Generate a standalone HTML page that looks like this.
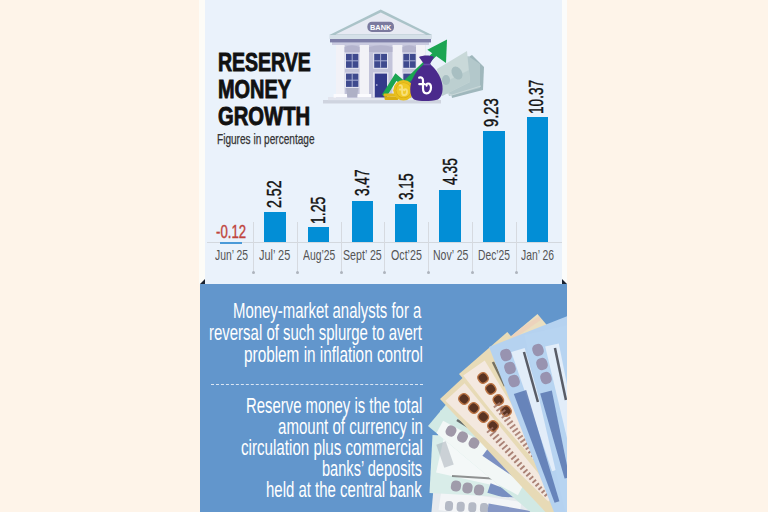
<!DOCTYPE html>
<html><head><meta charset="utf-8"><style>
*{margin:0;padding:0;box-sizing:border-box}
html,body{width:768px;height:512px;overflow:hidden;background:#fef4e9}
body{position:relative;font-family:"Liberation Sans",Arial,sans-serif}
.abs{position:absolute}
#wstripL{position:absolute;left:199px;top:0;width:6px;height:284px;background:#fdfcf7}
#wstripR{position:absolute;left:562px;top:0;width:5px;height:284px;background:#fbfcfb}
#top{position:absolute;left:205px;top:0;width:357px;height:284px;background:#eaf2fb}
#panel{position:absolute;left:200px;top:284px;width:367px;height:228px;background:#6296cc}
.tri{position:absolute;width:0;height:0}
.ill,.fan{position:absolute;left:0;top:0}
.t{position:absolute;font-family:"Liberation Sans",Arial,sans-serif;white-space:nowrap;transform-origin:0 0}
.val{color:#111}
.bar{position:absolute;background:#028ed6}
.bar.neg{background:#4a9ad8}
.axis{position:absolute;left:207px;top:242px;width:355px;height:1px;background:#d3d8de}
.sep{position:absolute;top:222px;width:1px;height:50px;background:#d6dae0}
.dot{position:absolute;top:271px;width:3px;height:3px;border-radius:50%;background:#aeb4bd}
.dash{position:absolute;left:211px;top:384px;width:212px;height:0;border-top:1.2px dashed #dbe6f3}
</style></head><body>
<div id="wstripL"></div><div id="wstripR"></div>
<div id="top"></div>
<div id="panel"></div>
<svg class="abs" style="left:0;top:0" width="768" height="512"><polygon points="200,284 205,284 205,279" fill="#1a2230"/><polygon points="562,279 562,284 567,284" fill="#1a2230"/></svg>

<svg class="ill" width="768" height="512" viewBox="0 0 768 512">
 <!-- cash stack -->
 <polygon points="447,70 472,55 484,67 483,90 452,98" fill="#9fb7bc"/>
 <polygon points="443,72 468,56 480,64 480,88 449,96" fill="#b3c8cb"/>
 <polyline points="444,92 452,95 481,86" fill="none" stroke="#c9d8d9" stroke-width="1"/>
 <polygon points="437,69 467,51 470,82 442,96" fill="#c9d9d9"/>
 <polygon points="441,84 469,70 470,82 442,96" fill="#bccfd0"/>
 <ellipse cx="457" cy="73" rx="5" ry="7" fill="#a8bfc2" transform="rotate(-30 457 73)"/>
 <ellipse cx="446" cy="80" rx="4" ry="5" fill="#a8bfc2"/>
 <!-- steps -->
 <rect x="323" y="100" width="118" height="3.5" fill="#cfd4df"/>
 <rect x="328" y="97" width="105" height="3.2" fill="#e2e5ee"/>
 <!-- walls -->
 <rect x="336" y="44" width="90" height="54" fill="#c3c4da"/>
 <!-- columns -->
 <g fill="#f2f2f7">
  <rect x="336" y="45" width="8.6" height="50"/>
  <rect x="359.6" y="45" width="9.4" height="50"/>
  <rect x="392.5" y="45" width="9.9" height="50"/>
  <rect x="416" y="45" width="9.8" height="50"/>
 </g>
 <g fill="#fbfbfe">
  <rect x="333.6" y="94" width="13.6" height="3.6"/>
  <rect x="357.4" y="94" width="13.8" height="3.6"/>
  <rect x="390.3" y="94" width="14.3" height="3.6"/>
  <rect x="413.8" y="94" width="14.2" height="3.6"/>
 </g>
 <!-- arches -->
 <g fill="#b4b4cd">
  <path d="M344.5,52 L344.5,47 Q352,43.5 359.6,47 L359.6,52 Z"/>
  <path d="M369,52 L369,47 Q380.7,43.5 392.5,47 L392.5,52 Z"/>
  <path d="M402.4,52 L402.4,47 Q409.2,43.5 416,47 L416,52 Z"/>
 </g>
 <!-- planters -->
 <path d="M346,88 L358.4,88 L357,97 L347.4,97 Z" fill="#aeb0c6"/>
 <path d="M403.3,88 L415.7,88 L414.3,97 L404.7,97 Z" fill="#aeb0c6"/>
 <!-- window frames -->
 <g fill="#e6e7f2">
  <rect x="345" y="52.8" width="14.4" height="16"/>
  <rect x="345" y="72.6" width="14.4" height="15.3"/>
  <rect x="373.2" y="52.8" width="14.8" height="16"/>
  <rect x="402.3" y="52.8" width="14.4" height="16"/>
  <rect x="402.3" y="72.6" width="14.4" height="15.3"/>
 </g>
 <!-- windows -->
 <g fill="#3f4a8e">
  <rect x="346" y="53.8" width="12.4" height="14"/>
  <rect x="346" y="73.6" width="12.4" height="13.3"/>
  <rect x="374.2" y="53.8" width="12.8" height="14"/>
  <rect x="403.3" y="53.8" width="12.4" height="14"/>
  <rect x="403.3" y="73.6" width="12.4" height="13.3"/>
 </g>
 <g stroke="#a9aed4" stroke-width="1">
  <line x1="352.2" y1="53.8" x2="352.2" y2="67.8"/><line x1="346" y1="60.8" x2="358.4" y2="60.8"/>
  <line x1="352.2" y1="73.6" x2="352.2" y2="86.9"/><line x1="346" y1="80.2" x2="358.4" y2="80.2"/>
  <line x1="380.6" y1="53.8" x2="380.6" y2="67.8"/><line x1="374.2" y1="60.8" x2="387" y2="60.8"/>
  <line x1="409.5" y1="53.8" x2="409.5" y2="67.8"/><line x1="403.3" y1="60.8" x2="415.7" y2="60.8"/>
 </g>
 <rect x="373" y="72.3" width="15.4" height="25" fill="#e3e3f0"/>
 <rect x="374.8" y="73.6" width="12.2" height="23.8" fill="#33398a"/>
 <circle cx="376.8" cy="85" r="0.8" fill="#dde"/>
 <!-- cornice -->
 <rect x="332" y="42" width="97" height="3" fill="#c9cadf"/>
 <rect x="330" y="38.6" width="101" height="3.8" fill="#7e7fa8"/>
 <rect x="329.4" y="34.6" width="102.6" height="4.4" fill="#d5e0e8"/>
 <!-- roof -->
 <polygon points="380.7,9.4 432,35 329.4,35" fill="#aac3c8"/>
 <polygon points="380.7,12.6 426,34.6 335.4,34.6" fill="#e7eaf3"/>
 <rect x="367.4" y="21.7" width="26.6" height="10.2" rx="4.5" fill="#7b7a9e"/>
 <text x="380.7" y="29.6" text-anchor="middle" font-family="Liberation Sans, Arial, sans-serif" font-weight="700" font-size="7.4" fill="#fff">BANK</text>
 <!-- arrow -->
 <polyline points="384,96 396,77 404,84 437,52" fill="none" stroke="#1ba552" stroke-width="5" stroke-linejoin="miter"/>
 <polygon points="447,39.4 427.3,49.8 446,62.9" fill="#1ba552"/>
 <!-- coins -->
 <rect x="383.5" y="93.5" width="14" height="3.2" rx="1.2" fill="#e2b81c"/>
 <rect x="384.5" y="96.7" width="14" height="3.2" rx="1.2" fill="#d8ad14"/>
 <circle cx="403.5" cy="90.2" r="10.3" fill="#e8bf1e"/>
 <circle cx="403.5" cy="90.2" r="7.8" fill="#d9a912"/>
 <circle cx="403.5" cy="90.2" r="7.2" fill="#f0c928"/>
 <path d="M-5.8,-7.9 C-3.5,-8.5 -2,-7.5 -2,-5 L-2,3 C-2,7 0,7.8 1.5,7.8 C4.5,7.8 6,5 6,2 C6,-0.7 4.5,-2 3,-2 C1.8,-2 1.3,-0.9 1.6,0.1 M-5.7,-1.3 L-0.5,-1.3" transform="translate(403.3,90.3) scale(0.62)" fill="none" stroke="#f7e07a" stroke-width="3" stroke-linecap="round" stroke-linejoin="round"/>
 <!-- bag -->
 <path d="M419,57 C423,55 430,55 434,57 L430,64 C432,66 436,69 439,75 C444,84 444,96 438,99.5 C430,101.5 420,101.5 414,99.5 C409,96 409,84 414,76 C417,70 421,67 424,64 Z" fill="#4a2a8c"/>
 <path d="M423.5,64.5 L430.5,64.5" stroke="#6a4aac" stroke-width="1.6"/>
 <path d="M-5.8,-7.9 C-3.5,-8.5 -2,-7.5 -2,-5 L-2,3 C-2,7 0,7.8 1.5,7.8 C4.5,7.8 6,5 6,2 C6,-0.7 4.5,-2 3,-2 C1.8,-2 1.3,-0.9 1.6,0.1 M-5.7,-1.3 L-0.5,-1.3" transform="translate(425,85.5)" fill="none" stroke="#fff" stroke-width="2.2" stroke-linecap="round" stroke-linejoin="round"/>
</svg>
<div class="t" style="left:218.10px;top:48.70px;font-weight:700;font-size:26px;line-height:26px;transform:scaleX(0.7496);color:#111;-webkit-text-stroke:0.9px #111">RESERVE</div>
<div class="t" style="left:217.97px;top:76.00px;font-weight:700;font-size:26px;line-height:26px;transform:scaleX(0.7656);color:#111;-webkit-text-stroke:0.9px #111">MONEY</div>
<div class="t" style="left:218.12px;top:102.80px;font-weight:700;font-size:26px;line-height:26px;transform:scaleX(0.7776);color:#111;-webkit-text-stroke:0.9px #111">GROWTH</div>
<div class="t" style="left:217.49px;top:132.23px;font-weight:400;font-size:14.2px;line-height:14.2px;transform:scaleX(0.7110);color:#333;-webkit-text-stroke:0.25px #333">Figures in percentage</div>
<div class="axis"></div>
<div class="bar neg" style="left:220.2px;top:242.3px;width:21.6px;height:1.5px"></div>
<div class="bar" style="left:264.0px;top:211.9px;width:21.6px;height:30.4px"></div>
<div class="t val" style="left:264.90px;top:207.86px;font-size:19.6px;line-height:19.6px;transform:rotate(-90deg) scaleX(0.7222);-webkit-text-stroke:0.4px #111">2.52</div>
<div class="bar" style="left:307.8px;top:227.2px;width:21.6px;height:15.1px"></div>
<div class="t val" style="left:308.70px;top:223.87px;font-size:19.6px;line-height:19.6px;transform:rotate(-90deg) scaleX(0.7143);-webkit-text-stroke:0.4px #111">1.25</div>
<div class="bar" style="left:351.6px;top:200.5px;width:21.6px;height:41.8px"></div>
<div class="t val" style="left:352.50px;top:196.38px;font-size:19.6px;line-height:19.6px;transform:rotate(-90deg) scaleX(0.6944);-webkit-text-stroke:0.4px #111">3.47</div>
<div class="bar" style="left:395.4px;top:204.3px;width:21.6px;height:38.0px"></div>
<div class="t val" style="left:396.80px;top:200.24px;font-size:19.6px;line-height:19.6px;transform:rotate(-90deg) scaleX(0.6944);-webkit-text-stroke:0.4px #111">3.15</div>
<div class="bar" style="left:439.2px;top:189.9px;width:21.6px;height:52.4px"></div>
<div class="t val" style="left:440.50px;top:185.08px;font-size:19.6px;line-height:19.6px;transform:rotate(-90deg) scaleX(0.7027);-webkit-text-stroke:0.4px #111">4.35</div>
<div class="bar" style="left:483.0px;top:131.1px;width:21.6px;height:111.2px"></div>
<div class="t val" style="left:481.90px;top:127.03px;font-size:19.6px;line-height:19.6px;transform:rotate(-90deg) scaleX(0.7500);-webkit-text-stroke:0.4px #111">9.23</div>
<div class="bar" style="left:526.8px;top:117.3px;width:21.6px;height:125.0px"></div>
<div class="t val" style="left:526.50px;top:113.93px;font-size:19.6px;line-height:19.6px;transform:rotate(-90deg) scaleX(0.6957);-webkit-text-stroke:0.4px #111">10.37</div>
<div class="t" style="left:215.78px;top:222.53px;font-weight:400;font-size:18.2px;line-height:18.2px;transform:scaleX(0.7250);color:#c0443c;-webkit-text-stroke:0.4px #c0443c">-0.12</div>
<div class="t" style="left:214.59px;top:248.19px;font-weight:400;font-size:14.6px;line-height:14.6px;transform:scaleX(0.7111);color:#555">Jun’ 25</div>
<div class="t" style="left:259.35px;top:248.19px;font-weight:400;font-size:14.6px;line-height:14.6px;transform:scaleX(0.7500);color:#555">Jul’ 25</div>
<div class="t" style="left:302.90px;top:248.19px;font-weight:400;font-size:14.6px;line-height:14.6px;transform:scaleX(0.7111);color:#555">Aug’25</div>
<div class="t" style="left:342.97px;top:248.19px;font-weight:400;font-size:14.6px;line-height:14.6px;transform:scaleX(0.7308);color:#555">Sept’ 25</div>
<div class="t" style="left:390.77px;top:248.19px;font-weight:400;font-size:14.6px;line-height:14.6px;transform:scaleX(0.7317);color:#555">Oct’25</div>
<div class="t" style="left:432.58px;top:248.19px;font-weight:400;font-size:14.6px;line-height:14.6px;transform:scaleX(0.7234);color:#555">Nov’ 25</div>
<div class="t" style="left:477.90px;top:248.19px;font-weight:400;font-size:14.6px;line-height:14.6px;transform:scaleX(0.7045);color:#555">Dec’25</div>
<div class="t" style="left:521.19px;top:248.19px;font-weight:400;font-size:14.6px;line-height:14.6px;transform:scaleX(0.7111);color:#555">Jan’ 26</div>
<div class="sep" style="left:253.0px"></div><div class="dot" style="left:252.0px"></div>
<div class="sep" style="left:296.8px"></div><div class="dot" style="left:295.8px"></div>
<div class="sep" style="left:340.6px"></div><div class="dot" style="left:339.6px"></div>
<div class="sep" style="left:384.4px"></div><div class="dot" style="left:383.4px"></div>
<div class="sep" style="left:428.2px"></div><div class="dot" style="left:427.2px"></div>
<div class="sep" style="left:472.0px"></div><div class="dot" style="left:471.0px"></div>
<div class="sep" style="left:515.8px"></div><div class="dot" style="left:514.8px"></div>
<svg class="fan" width="768" height="512" viewBox="0 0 768 512">
<defs><clipPath id="pc"><rect x="200" y="284" width="367" height="228"/></clipPath><clipPath id="cn1"><polygon points="429.0,540.0 440.3,410.5 659.5,429.7 648.2,559.2"/></clipPath><clipPath id="cn2"><polygon points="429.5,493.0 432.5,435.1 652.2,446.6 649.2,504.5"/></clipPath><clipPath id="cn3"><polygon points="428.0,426.0 469.1,377.0 645.3,524.8 604.2,573.8"/></clipPath><clipPath id="cb3"><polygon points="488.5,355.0 537.5,313.9 691.8,497.7 642.8,538.9"/></clipPath><clipPath id="cb2"><polygon points="440.0,399.0 486.8,355.4 650.5,530.9 603.7,574.5"/></clipPath><clipPath id="cb1"><polygon points="459.0,374.0 507.3,332.0 664.8,513.1 616.5,555.1"/></clipPath><clipPath id="cu2"><polygon points="489.0,347.0 572.7,314.0 664.4,546.6 580.6,579.6"/></clipPath><clipPath id="cu1"><polygon points="524.4,335.0 592.6,319.3 648.8,562.8 580.6,578.6"/></clipPath></defs>
<g clip-path="url(#pc)"><polygon points="429.0,540.0 440.3,410.5 659.5,429.7 648.2,559.2" fill="#e6eaee"/><g clip-path="url(#cn1)"><rect x="0" y="-10.0" width="80.9" height="20" rx="0" fill="#f3f5f7" opacity="1.0" transform="translate(440.0,500.0) rotate(8.5)"/><rect x="-4.0" y="-5.0" width="8.0" height="10.0" rx="3.4" fill="#b4b9c5" opacity="1.0" transform="translate(449.0,506.0) rotate(3.3)"/><rect x="-4.0" y="-5.0" width="8.0" height="10.0" rx="3.4" fill="#b4b9c5" opacity="1.0" transform="translate(460.7,506.7) rotate(3.3)"/><rect x="-4.0" y="-5.0" width="8.0" height="10.0" rx="3.4" fill="#b4b9c5" opacity="1.0" transform="translate(472.3,507.3) rotate(3.3)"/><rect x="-4.0" y="-5.0" width="8.0" height="10.0" rx="3.4" fill="#b4b9c5" opacity="1.0" transform="translate(484.0,508.0) rotate(3.3)"/><polygon points="487.4,512.5 529.6,517.0 530.4,511.0 488.6,503.5" fill="#6a80b8" opacity="0.8"/></g><polygon points="429.5,493.0 432.5,435.1 652.2,446.6 649.2,504.5" fill="#d9ede9"/><g clip-path="url(#cn2)"><rect x="0" y="-18.0" width="87.1" height="36" rx="0" fill="#f4f8f8" opacity="1.0" transform="translate(440.0,455.0) rotate(12.6)"/><rect x="0" y="-5.0" width="24.4" height="10" rx="0" fill="#9aa2ae" opacity="0.45" transform="translate(441.0,443.0) rotate(70.8)"/><rect x="-5.0" y="-5.5" width="10.0" height="11.0" rx="4.2" fill="#a09cab" opacity="1.0" transform="translate(456.0,486.0) rotate(9.9)"/><rect x="-5.0" y="-5.5" width="10.0" height="11.0" rx="4.2" fill="#a09cab" opacity="1.0" transform="translate(467.5,488.0) rotate(9.9)"/><rect x="-5.0" y="-5.5" width="10.0" height="11.0" rx="4.2" fill="#a09cab" opacity="1.0" transform="translate(479.0,490.0) rotate(9.9)"/><rect x="0" y="-1.1" width="48.1" height="2.2" rx="0" fill="#2a2a2a" opacity="0.5" transform="translate(452.0,476.0) rotate(3.6)"/><polygon points="487.4,492.7 544.2,509.4 545.8,504.6 490.6,483.3" fill="#5f77b6" opacity="0.8"/></g><polygon points="428.0,426.0 469.1,377.0 645.3,524.8 604.2,573.8" fill="#d1e9e4"/><g clip-path="url(#cn3)"><rect x="0" y="-15.0" width="101.1" height="30" rx="0" fill="#f2f7f6" opacity="1.0" transform="translate(436.0,434.0) rotate(28.3)"/><rect x="-5.0" y="-5.5" width="10.0" height="11.0" rx="4.2" fill="#9f98a8" opacity="1.0" transform="translate(451.0,431.0) rotate(27.6)"/><rect x="-5.0" y="-5.5" width="10.0" height="11.0" rx="4.2" fill="#9f98a8" opacity="1.0" transform="translate(462.5,437.0) rotate(27.6)"/><rect x="-5.0" y="-5.5" width="10.0" height="11.0" rx="4.2" fill="#9f98a8" opacity="1.0" transform="translate(474.0,443.0) rotate(27.6)"/><rect x="0" y="-1.2" width="15.3" height="2.5" rx="0" fill="#2a2a2a" opacity="0.65" transform="translate(457.0,420.0) rotate(31.6)"/><polygon points="482.4,455.8 540.5,495.0 543.5,491.0 489.6,446.2" fill="#5e76b5" opacity="0.8"/></g><polygon points="488.5,355.0 537.5,313.9 691.8,497.7 642.8,538.9" fill="#eadfc0"/><g clip-path="url(#cb3)"><polygon points="501.7,347.5 541.1,319.7 538.9,316.3 498.3,342.5" fill="#ecd2bb" opacity="0.9"/></g><polygon points="440.0,399.0 486.8,355.4 650.5,530.9 603.7,574.5" fill="#e7dab6"/><g clip-path="url(#cb2)"><polygon points="445.4,400.8 548.3,501.4 555.7,494.6 464.6,383.2" fill="#f3e8df" opacity="1.0"/><rect x="-5.0" y="-4.8" width="10.0" height="9.5" rx="4.0" fill="#5a3322" stroke="#bb7445" stroke-width="1.5" opacity="1.0" transform="translate(464.0,399.0) rotate(43.0)"/><rect x="-5.0" y="-4.8" width="10.0" height="9.5" rx="4.0" fill="#5a3322" stroke="#bb7445" stroke-width="1.5" opacity="1.0" transform="translate(473.7,408.0) rotate(43.0)"/><rect x="-5.0" y="-4.8" width="10.0" height="9.5" rx="4.0" fill="#5a3322" stroke="#bb7445" stroke-width="1.5" opacity="1.0" transform="translate(483.3,417.0) rotate(43.0)"/><rect x="-5.0" y="-4.8" width="10.0" height="9.5" rx="4.0" fill="#5a3322" stroke="#bb7445" stroke-width="1.5" opacity="1.0" transform="translate(493.0,426.0) rotate(43.0)"/><rect x="-0.9" y="-4.0" width="1.9" height="8.0" fill="#9c6f62" opacity="0.85" transform="translate(490.0,430.0) rotate(49.3)"/><rect x="-0.9" y="-3.9" width="1.9" height="7.8" fill="#9c6f62" opacity="0.85" transform="translate(492.9,433.4) rotate(49.3)"/><rect x="-0.9" y="-3.8" width="1.9" height="7.6" fill="#9c6f62" opacity="0.85" transform="translate(495.9,436.8) rotate(49.3)"/><rect x="-0.9" y="-3.7" width="1.9" height="7.4" fill="#9c6f62" opacity="0.85" transform="translate(498.8,440.3) rotate(49.3)"/><rect x="-0.9" y="-3.6" width="1.9" height="7.2" fill="#9c6f62" opacity="0.85" transform="translate(501.8,443.7) rotate(49.3)"/><rect x="-0.9" y="-3.5" width="1.9" height="6.9" fill="#9c6f62" opacity="0.85" transform="translate(504.7,447.1) rotate(49.3)"/><rect x="-0.9" y="-3.4" width="1.9" height="6.7" fill="#9c6f62" opacity="0.85" transform="translate(507.7,450.5) rotate(49.3)"/><rect x="-0.9" y="-3.3" width="1.9" height="6.5" fill="#9c6f62" opacity="0.85" transform="translate(510.6,453.9) rotate(49.3)"/><rect x="-0.9" y="-3.2" width="1.9" height="6.3" fill="#9c6f62" opacity="0.85" transform="translate(513.6,457.4) rotate(49.3)"/><rect x="-0.9" y="-3.1" width="1.9" height="6.1" fill="#9c6f62" opacity="0.85" transform="translate(516.5,460.8) rotate(49.3)"/><rect x="-0.9" y="-2.9" width="1.9" height="5.9" fill="#9c6f62" opacity="0.85" transform="translate(519.5,464.2) rotate(49.3)"/><rect x="-0.9" y="-2.8" width="1.9" height="5.7" fill="#9c6f62" opacity="0.85" transform="translate(522.4,467.6) rotate(49.3)"/><rect x="-0.9" y="-2.7" width="1.9" height="5.5" fill="#9c6f62" opacity="0.85" transform="translate(525.4,471.1) rotate(49.3)"/><rect x="-0.9" y="-2.6" width="1.9" height="5.3" fill="#9c6f62" opacity="0.85" transform="translate(528.3,474.5) rotate(49.3)"/><rect x="-0.9" y="-2.5" width="1.9" height="5.1" fill="#9c6f62" opacity="0.85" transform="translate(531.3,477.9) rotate(49.3)"/><rect x="-0.9" y="-2.4" width="1.9" height="4.8" fill="#9c6f62" opacity="0.85" transform="translate(534.2,481.3) rotate(49.3)"/><rect x="-0.9" y="-2.3" width="1.9" height="4.6" fill="#9c6f62" opacity="0.85" transform="translate(537.2,484.7) rotate(49.3)"/><rect x="-0.9" y="-2.2" width="1.9" height="4.4" fill="#9c6f62" opacity="0.85" transform="translate(540.1,488.2) rotate(49.3)"/><rect x="-0.9" y="-2.1" width="1.9" height="4.2" fill="#9c6f62" opacity="0.85" transform="translate(543.1,491.6) rotate(49.3)"/><rect x="-0.9" y="-2.0" width="1.9" height="4.0" fill="#9c6f62" opacity="0.85" transform="translate(546.0,495.0) rotate(49.3)"/></g><polygon points="459.0,374.0 507.3,332.0 664.8,513.1 616.5,555.1" fill="#e8dbb7"/><g clip-path="url(#cb1)"><polygon points="463.3,375.4 547.9,482.9 556.1,477.1 484.7,360.6" fill="#f4e9e0" opacity="1.0"/><rect x="-5.0" y="-4.8" width="10.0" height="9.5" rx="4.0" fill="#5a3322" stroke="#bb7445" stroke-width="1.5" opacity="1.0" transform="translate(483.0,378.0) rotate(55.1)"/><rect x="-5.0" y="-4.8" width="10.0" height="9.5" rx="4.0" fill="#5a3322" stroke="#bb7445" stroke-width="1.5" opacity="1.0" transform="translate(490.7,389.0) rotate(55.1)"/><rect x="-5.0" y="-4.8" width="10.0" height="9.5" rx="4.0" fill="#5a3322" stroke="#bb7445" stroke-width="1.5" opacity="1.0" transform="translate(498.3,400.0) rotate(55.1)"/><rect x="-5.0" y="-4.8" width="10.0" height="9.5" rx="4.0" fill="#5a3322" stroke="#bb7445" stroke-width="1.5" opacity="1.0" transform="translate(506.0,411.0) rotate(55.1)"/><rect x="0" y="-1.2" width="26.8" height="2.5" rx="0" fill="#2a2a2a" opacity="0.6" transform="translate(493.0,362.0) rotate(63.4)"/><rect x="-0.9" y="-4.0" width="1.9" height="8.0" fill="#a27668" opacity="0.85" transform="translate(497.0,405.0) rotate(54.2)"/><rect x="-0.9" y="-3.9" width="1.9" height="7.8" fill="#a27668" opacity="0.85" transform="translate(499.6,408.6) rotate(54.2)"/><rect x="-0.9" y="-3.8" width="1.9" height="7.6" fill="#a27668" opacity="0.85" transform="translate(502.2,412.2) rotate(54.2)"/><rect x="-0.9" y="-3.7" width="1.9" height="7.4" fill="#a27668" opacity="0.85" transform="translate(504.7,415.7) rotate(54.2)"/><rect x="-0.9" y="-3.6" width="1.9" height="7.2" fill="#a27668" opacity="0.85" transform="translate(507.3,419.3) rotate(54.2)"/><rect x="-0.9" y="-3.5" width="1.9" height="6.9" fill="#a27668" opacity="0.85" transform="translate(509.9,422.9) rotate(54.2)"/><rect x="-0.9" y="-3.4" width="1.9" height="6.7" fill="#a27668" opacity="0.85" transform="translate(512.5,426.5) rotate(54.2)"/><rect x="-0.9" y="-3.3" width="1.9" height="6.5" fill="#a27668" opacity="0.85" transform="translate(515.1,430.1) rotate(54.2)"/><rect x="-0.9" y="-3.2" width="1.9" height="6.3" fill="#a27668" opacity="0.85" transform="translate(517.6,433.6) rotate(54.2)"/><rect x="-0.9" y="-3.1" width="1.9" height="6.1" fill="#a27668" opacity="0.85" transform="translate(520.2,437.2) rotate(54.2)"/><rect x="-0.9" y="-2.9" width="1.9" height="5.9" fill="#a27668" opacity="0.85" transform="translate(522.8,440.8) rotate(54.2)"/><rect x="-0.9" y="-2.8" width="1.9" height="5.7" fill="#a27668" opacity="0.85" transform="translate(525.4,444.4) rotate(54.2)"/><rect x="-0.9" y="-2.7" width="1.9" height="5.5" fill="#a27668" opacity="0.85" transform="translate(527.9,447.9) rotate(54.2)"/><rect x="-0.9" y="-2.6" width="1.9" height="5.3" fill="#a27668" opacity="0.85" transform="translate(530.5,451.5) rotate(54.2)"/><rect x="-0.9" y="-2.5" width="1.9" height="5.1" fill="#a27668" opacity="0.85" transform="translate(533.1,455.1) rotate(54.2)"/><rect x="-0.9" y="-2.4" width="1.9" height="4.8" fill="#a27668" opacity="0.85" transform="translate(535.7,458.7) rotate(54.2)"/><rect x="-0.9" y="-2.3" width="1.9" height="4.6" fill="#a27668" opacity="0.85" transform="translate(538.3,462.3) rotate(54.2)"/><rect x="-0.9" y="-2.2" width="1.9" height="4.4" fill="#a27668" opacity="0.85" transform="translate(540.8,465.8) rotate(54.2)"/><rect x="-0.9" y="-2.1" width="1.9" height="4.2" fill="#a27668" opacity="0.85" transform="translate(543.4,469.4) rotate(54.2)"/><rect x="-0.9" y="-2.0" width="1.9" height="4.0" fill="#a27668" opacity="0.85" transform="translate(546.0,473.0) rotate(54.2)"/></g><polygon points="489.0,347.0 572.7,314.0 664.4,546.6 580.6,579.6" fill="#b5d2f0"/><g clip-path="url(#cu2)"><polygon points="511.3,352.1 552.2,471.2 559.8,468.8 524.7,347.9" fill="#e2edf9" opacity="1.0"/><rect x="-6.0" y="-5.5" width="12.0" height="11.0" rx="4.6" fill="#9893b0" opacity="1.0" transform="translate(506.0,355.0) rotate(72.9)"/><rect x="-6.0" y="-5.5" width="12.0" height="11.0" rx="4.6" fill="#9893b0" opacity="1.0" transform="translate(510.0,368.0) rotate(72.9)"/><rect x="-6.0" y="-5.5" width="12.0" height="11.0" rx="4.6" fill="#9893b0" opacity="1.0" transform="translate(514.0,381.0) rotate(72.9)"/><rect x="0" y="-1.2" width="51.9" height="2.5" rx="0" fill="#1e1e28" opacity="0.7" transform="translate(524.0,352.0) rotate(74.4)"/><polygon points="513.8,394.1 554.6,502.8 559.4,501.2 526.2,389.9" fill="#5470ad" opacity="0.8"/></g><polygon points="524.4,335.0 592.6,319.3 648.8,562.8 580.6,578.6" fill="#b7d4f1"/><g clip-path="url(#cu1)"><polygon points="545.2,346.5 570.1,451.1 579.9,448.9 558.8,343.5" fill="#e2edf9" opacity="1.0"/><rect x="-6.0" y="-5.5" width="12.0" height="11.0" rx="4.6" fill="#9893b0" opacity="1.0" transform="translate(538.0,350.0) rotate(74.1)"/><rect x="-6.0" y="-5.5" width="12.0" height="11.0" rx="4.6" fill="#9893b0" opacity="1.0" transform="translate(542.0,364.0) rotate(74.1)"/><rect x="-6.0" y="-5.5" width="12.0" height="11.0" rx="4.6" fill="#9893b0" opacity="1.0" transform="translate(546.0,378.0) rotate(74.1)"/><rect x="0" y="-1.2" width="53.2" height="2.5" rx="0" fill="#1e1e28" opacity="0.7" transform="translate(555.0,348.0) rotate(78.1)"/><polygon points="540.2,393.4 564.6,478.6 569.4,477.4 551.8,390.6" fill="#5470ad" opacity="0.8"/></g></g></svg>
<div class="t" style="left:233.40px;top:301.11px;font-weight:400;font-size:21.4px;line-height:21.4px;transform:scaleX(0.6978);color:#fff">Money-market analysts for a</div>
<div class="t" style="left:209.10px;top:323.01px;font-weight:400;font-size:21.4px;line-height:21.4px;transform:scaleX(0.6997);color:#fff">reversal of such splurge to avert</div>
<div class="t" style="left:244.08px;top:344.91px;font-weight:400;font-size:21.4px;line-height:21.4px;transform:scaleX(0.7166);color:#fff">problem in inflation control</div>
<div class="dash"></div>
<div class="t" style="left:246.41px;top:396.31px;font-weight:400;font-size:21.4px;line-height:21.4px;transform:scaleX(0.6960);color:#fff">Reserve money is the total</div>
<div class="t" style="left:278.10px;top:417.31px;font-weight:400;font-size:21.4px;line-height:21.4px;transform:scaleX(0.7044);color:#fff">amount of currency in</div>
<div class="t" style="left:241.09px;top:438.31px;font-weight:400;font-size:21.4px;line-height:21.4px;transform:scaleX(0.7087);color:#fff">circulation plus commercial</div>
<div class="t" style="left:322.12px;top:459.31px;font-weight:400;font-size:21.4px;line-height:21.4px;transform:scaleX(0.6828);color:#fff">banks’ deposits</div>
<div class="t" style="left:266.40px;top:480.31px;font-weight:400;font-size:21.4px;line-height:21.4px;transform:scaleX(0.7000);color:#fff">held at the central bank</div>
</body></html>
